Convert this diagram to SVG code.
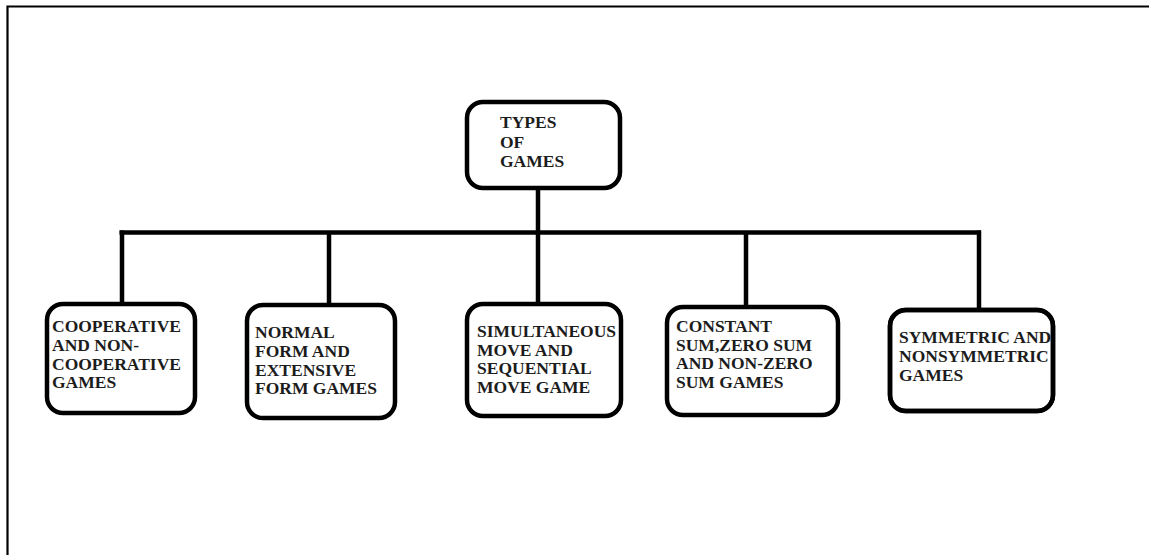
<svg xmlns="http://www.w3.org/2000/svg" width="1149" height="555" viewBox="0 0 1149 555">
  <style>
    .box { fill: #fff; stroke: #000; stroke-width: 4.5; }
    .lbl { font-family: "Liberation Serif", "Times New Roman", serif; font-weight: bold; font-size: 17.5px; fill: #1c1c1c; }
    .conn { stroke: #000; stroke-width: 4.5; fill: none; }
    .frame { stroke: #000; stroke-width: 2.2; fill: none; }
  </style>
  <defs>
    <clipPath id="clip5"><rect x="890" y="310" width="163" height="101" rx="14"/></clipPath>
  </defs>
  <rect width="1149" height="555" fill="#fff"/>
  <path class="frame" d="M7.5,560 V6.5 H1155"/>
  <g id="connectors">
    <path class="conn" d="M538,190 V232.5"/>
    <path class="conn" d="M119.5,232.5 H981"/>
    <path class="conn" d="M122,230.5 V303"/>
    <path class="conn" d="M329,232.5 V304"/>
    <path class="conn" d="M538,232.5 V303"/>
    <path class="conn" d="M746,232.5 V306"/>
    <path class="conn" d="M979,230.5 V309"/>
  </g>
  <g id="root">
    <rect class="box" x="467" y="102" width="153" height="86" rx="16"/>
    <text class="lbl" x="500" y="128">TYPES</text>
    <text class="lbl" x="500" y="148">OF</text>
    <text class="lbl" x="500" y="167">GAMES</text>
  </g>
  <g id="node1">
    <rect class="box" x="47" y="304" width="148" height="109" rx="16"/>
    <text class="lbl" x="52" y="332">COOPERATIVE</text>
    <text class="lbl" x="52" y="351">AND NON-</text>
    <text class="lbl" x="52" y="370">COOPERATIVE</text>
    <text class="lbl" x="52" y="388">GAMES</text>
  </g>
  <g id="node2">
    <rect class="box" x="247" y="305" width="148" height="113" rx="16"/>
    <text class="lbl" x="255" y="338">NORMAL</text>
    <text class="lbl" x="255" y="357">FORM AND</text>
    <text class="lbl" x="255" y="376">EXTENSIVE</text>
    <text class="lbl" x="255" y="394">FORM GAMES</text>
  </g>
  <g id="node3">
    <rect class="box" x="467" y="304" width="154" height="112" rx="16"/>
    <text class="lbl" x="477" y="337">SIMULTANEOUS</text>
    <text class="lbl" x="477" y="356">MOVE AND</text>
    <text class="lbl" x="477" y="374">SEQUENTIAL</text>
    <text class="lbl" x="477" y="393">MOVE GAME</text>
  </g>
  <g id="node4">
    <rect class="box" x="667" y="307" width="171" height="108" rx="16"/>
    <text class="lbl" x="676" y="332">CONSTANT</text>
    <text class="lbl" x="676" y="351">SUM,ZERO SUM</text>
    <text class="lbl" x="676" y="369">AND NON-ZERO</text>
    <text class="lbl" x="676" y="388">SUM GAMES</text>
  </g>
  <g id="node5">
    <rect class="box" x="890" y="310" width="163" height="101" rx="16"/>
    <g clip-path="url(#clip5)">
      <text class="lbl" x="899" y="343">SYMMETRIC AND</text>
      <text class="lbl" x="899" y="362">NONSYMMETRIC</text>
      <text class="lbl" x="899" y="381">GAMES</text>
    </g>
    <rect x="890" y="310" width="163" height="101" rx="16" fill="none" stroke="#000" stroke-width="4.5"/>
  </g>
</svg>
